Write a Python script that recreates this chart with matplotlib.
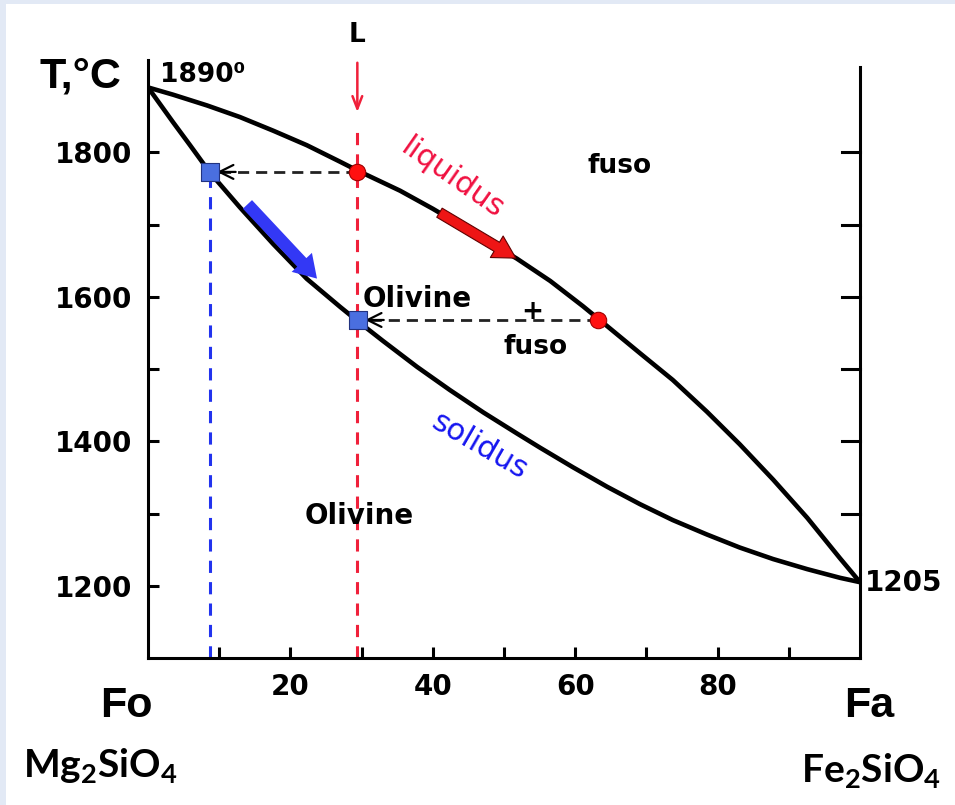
import numpy as np
import matplotlib
matplotlib.use("Agg")
import matplotlib.pyplot as plt
from matplotlib.patches import Rectangle

# curve points (x = % Fa, y = T in C)
liq_x = [0, 3.5, 8.3, 12.9, 17.6, 22.3, 27.0, 29.4, 35.4, 40.0, 44.8, 51.8, 56.5,
         61.1, 63.2, 69.1, 73.7, 78.5, 83.1, 87.8, 92.6, 97.2, 100]
liq_y = [1890, 1880, 1865, 1849, 1830, 1810, 1787, 1775, 1747, 1722, 1694, 1653, 1622,
         1587, 1570, 1522, 1485, 1441, 1396, 1347, 1294, 1238, 1205]
sol_x = [0, 3.5, 5.9, 8.7, 12.9, 17.6, 22.3, 27.0, 29.5, 33.0, 37.8, 42.4, 47.1, 51.8,
         55.1, 59.7, 64.5, 69.1, 73.7, 78.5, 83.1, 87.8, 92.6, 97.2, 100]
sol_y = [1890, 1842, 1810, 1772, 1724, 1673, 1625, 1586, 1566, 1539, 1503, 1471, 1440,
         1411, 1391, 1364, 1337, 1313, 1291, 1271, 1253, 1237, 1223, 1211, 1205]

# crystallisation path (liquid and solid compositions)
liq_pts_x = [29.4, 63.2]
sol_pts_x = [8.7, 29.5]
tie_y = [1773, 1568]

ytick_vals = [1200, 1300, 1400, 1500, 1600, 1700, 1800]
ytick_labels = ["1200", "", "1400", "", "1600", "", "1800"]
xtick_vals = [10, 20, 30, 40, 50, 60, 70, 80, 90]
xtick_labels = ["", "20", "", "40", "", "60", "", "80", ""]
right_ticks = [1300, 1400, 1500, 1600, 1700, 1800]

plt.rcParams["mathtext.fontset"] = "custom"
plt.rcParams["mathtext.rm"] = "Lato:bold"

fig = plt.figure(figsize=(9.55, 8.05), dpi=100, facecolor="#e2e9f5")
fig.add_artist(Rectangle((6 / 955, 0), 1, (805 - 4) / 805, transform=fig.transFigure,
                         facecolor="white", edgecolor="none", zorder=-10))
ax = fig.add_axes([0.155, 0.1826, 0.7455, 0.7429])
ax.set_facecolor("none")
ax.set_xlim(0, 100)
ax.set_ylim(1100, 1928)

ax.spines["top"].set_visible(False)
for s in ["left", "right", "bottom"]:
    ax.spines[s].set_linewidth(2.2)
ax.spines["right"].set_bounds(1100, 1918)

ax.set_yticks(ytick_vals)
ax.set_yticklabels(ytick_labels)
ax.set_xticks(xtick_vals)
ax.set_xticklabels(xtick_labels)
ax.tick_params(axis="both", direction="in", length=8, width=2.2, labelsize=20, pad=11)
for lab in ax.get_xticklabels() + ax.get_yticklabels():
    lab.set_fontweight("bold")

# right axis ticks
for t in right_ticks:
    ax.plot([97.5, 100], [t, t], color="black", lw=2.2, clip_on=False)

# curves
ax.plot(liq_x, liq_y, color="black", lw=3.3, solid_capstyle="round",
        solid_joinstyle="round", zorder=3)
ax.plot(sol_x, sol_y, color="black", lw=3.3, solid_capstyle="round",
        solid_joinstyle="round", zorder=3)

# vertical guides
ax.plot([liq_pts_x[0], liq_pts_x[0]], [1100, 1840], color="#f0203a", lw=2.2,
        ls=(0, (4, 3)), zorder=2)
ax.annotate("", xy=(liq_pts_x[0], 1852), xytext=(liq_pts_x[0], 1928),
            arrowprops=dict(arrowstyle="->,head_length=0.9,head_width=0.35",
                            color="#f0203a", lw=1.8), annotation_clip=False)
ax.text(liq_pts_x[0], 1962, "L", ha="center", va="center", fontsize=19,
        fontweight="bold", clip_on=False)
ax.plot([sol_pts_x[0], sol_pts_x[0]], [1100, tie_y[0]], color="#2233ee", lw=2.2,
        ls=(0, (4, 3)), zorder=2)

# tie lines
for i in range(2):
    ax.plot([liq_pts_x[i], sol_pts_x[i] + 1.2], [tie_y[i], tie_y[i]],
            color="#222222", lw=2.0, ls=(0, (4, 2.5)), zorder=2)
    ax.annotate("", xy=(sol_pts_x[i] + 0.6, tie_y[i]),
                xytext=(sol_pts_x[i] + 4, tie_y[i]),
                arrowprops=dict(arrowstyle="->,head_length=1.0,head_width=0.5",
                                color="black", lw=1.6))

ax.scatter(liq_pts_x, tie_y, s=140, color="#ff1010", edgecolor="#a00000",
           lw=0.8, zorder=5)
ax.scatter(sol_pts_x, tie_y, s=160, marker="s", color="#4a6fe0",
           edgecolor="#223380", lw=0.8, zorder=5)

# thick arrows along the curves
xa0, xa1 = 40.6, 52.0
ax.annotate("", xy=(xa1, np.interp(xa1, liq_x, liq_y)),
            xytext=(xa0, np.interp(xa0, liq_x, liq_y)),
            arrowprops=dict(arrowstyle="simple,head_length=0.8,head_width=0.9,tail_width=0.38",
                            mutation_scale=20, fc="#ee1515", ec="#600000", lw=0.8),
            zorder=4)
xb0, xb1 = 12.3, 22.6
ax.annotate("", xy=(xb1 + 1.4, np.interp(xb1, sol_x, sol_y)),
            xytext=(xb0 + 1.4, np.interp(xb0, sol_x, sol_y)),
            arrowprops=dict(arrowstyle="simple,head_length=0.8,head_width=1.0,tail_width=0.45",
                            mutation_scale=20, fc="#3338f5", ec="none"), zorder=4)

# labels
ax.text(1.7, 1897, "1890⁰", ha="left", va="baseline", fontsize=19, fontweight="bold")
ax.text(100.7, 1204, "1205", ha="left", va="center", fontsize=20, fontweight="bold",
        clip_on=False)
ax.text(-9.5, 1905, "T,°C", ha="center", va="center", fontsize=31, fontweight="bold",
        family="Liberation Sans", clip_on=False)
ax.text(66.3, 1781, "fuso", ha="center", va="center", fontsize=19, fontweight="bold")
ax.text(30.1, 1597, "Olivine", ha="left", va="center", fontsize=20, fontweight="bold")
ax.text(54.0, 1579, "+", ha="center", va="center", fontsize=19, fontweight="bold")
ax.text(54.4, 1530, "fuso", ha="center", va="center", fontsize=19, fontweight="bold")
ax.text(29.6, 1297, "Olivine", ha="center", va="center", fontsize=20, fontweight="bold")
ax.text(42.7, 1764, "liquidus", ha="center", va="center", fontsize=22, color="#f01040",
        rotation=-35)
ax.text(46.6, 1394, "solidus", ha="center", va="center", fontsize=22, color="#1515f0",
        rotation=-30)

ax.text(-3.1, 1033, "Fo", ha="center", va="center", fontsize=31, fontweight="bold",
        family="Liberation Sans", clip_on=False)
ax.text(101.3, 1034, "Fa", ha="center", va="center", fontsize=31, fontweight="bold",
        family="Liberation Sans", clip_on=False)

ax.text(-6.7, 951, r"$\mathrm{Mg_2SiO_4}$", ha="center", va="center", fontsize=28,
        clip_on=False)
ax.text(101.5, 944, r"$\mathrm{Fe_2SiO_4}$", ha="center", va="center", fontsize=28,
        clip_on=False)

fig.savefig("out.png", dpi=100)
